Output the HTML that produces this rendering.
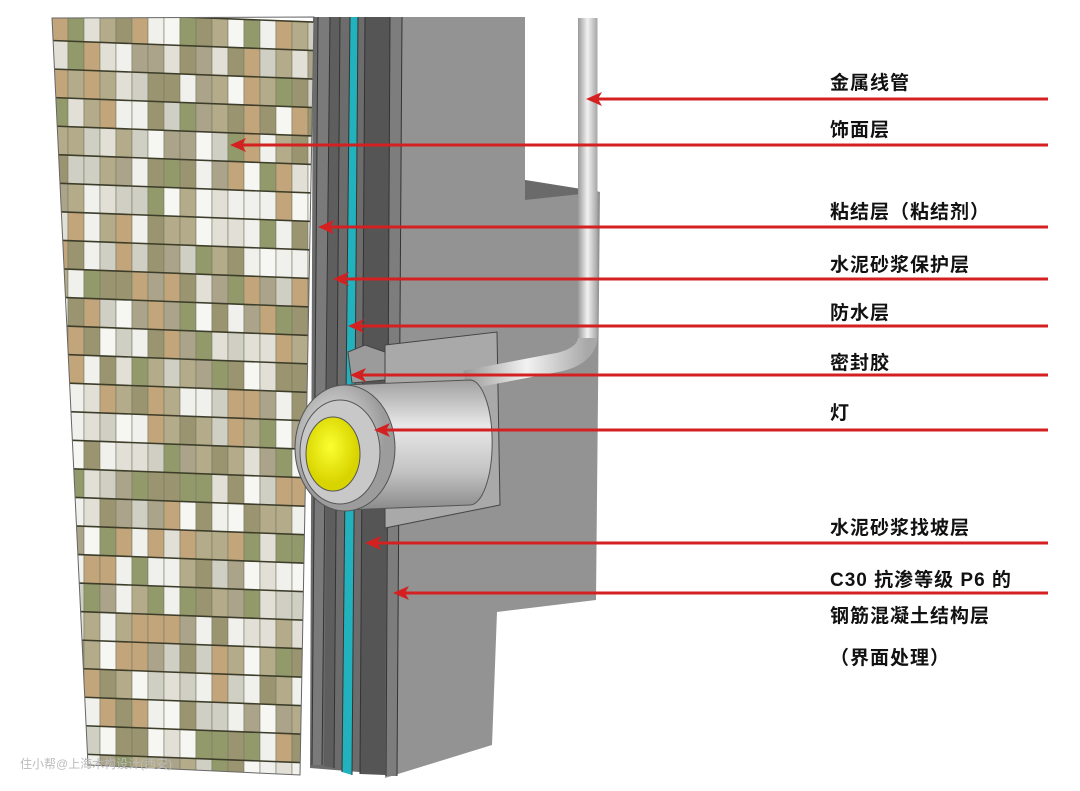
<!DOCTYPE html>
<html><head><meta charset="utf-8"><style>
body{margin:0;background:#fff;width:1080px;height:791px;overflow:hidden;position:relative;font-family:"Liberation Sans","Noto Sans CJK SC",sans-serif}
svg{position:absolute;left:0;top:0}
.t{position:absolute;left:830px;font-size:19px;color:#111;font-weight:bold;letter-spacing:1px;white-space:nowrap}
</style></head><body>
<svg width="1080" height="791" viewBox="0 0 1080 791">
<defs>
<clipPath id="wc"><polygon points="52,18 314,17 300,775 88,765"/></clipPath>
<linearGradient id="pipe" x1="0" x2="1"><stop offset="0" stop-color="#9a9a9a"/><stop offset=".5" stop-color="#f2f2f2"/><stop offset="1" stop-color="#a8a8a8"/></linearGradient>
<linearGradient id="cyl" x1="0" y1="0" x2="0" y2="1"><stop offset="0" stop-color="#a0a0a0"/><stop offset=".35" stop-color="#e8e8e8"/><stop offset=".7" stop-color="#c4c4c4"/><stop offset="1" stop-color="#8a8a8a"/></linearGradient>
<radialGradient id="ring" cx=".4" cy=".4"><stop offset="0" stop-color="#eee"/><stop offset="1" stop-color="#9c9c9c"/></radialGradient>
<radialGradient id="yel" cx=".45" cy=".4"><stop offset="0" stop-color="#fbff30"/><stop offset="1" stop-color="#d8d400"/></radialGradient>
</defs>
<polygon points="395,17 525,17 525,180 600,192 596,600 497,612 492,745 385,778" fill="#939393"/>
<polygon points="525,180 600,192 525,200" fill="#6a6a6a"/>
<polygon points="313,17 400,17 395,775 310,768" fill="#6c6c6c"/>
<polygon points="318,17 330,17 322,765 312,765" fill="#7a7a7a"/>
<polygon points="330,17 340,17 334,768 324,766" fill="#5e5e5e"/>
<polygon points="350,17 358,17 352,775 342,772" fill="#21b2bd"/>
<polygon points="365,17 390,17 385,775 360,774" fill="#555"/>
<polygon points="390,17 402,17 397,776 386,776" fill="#7d7d7d"/>
<g stroke="#333" stroke-width="1" fill="none">
<line x1="318" y1="17" x2="312" y2="765"/><line x1="330" y1="17" x2="322" y2="765"/><line x1="340" y1="17" x2="334" y2="768"/><line x1="350" y1="17" x2="342" y2="772"/><line x1="358" y1="17" x2="352" y2="775"/><line x1="365" y1="17" x2="360" y2="774"/><line x1="390" y1="17" x2="386" y2="776"/><line x1="402" y1="17" x2="397" y2="776"/>
</g>
<g clip-path="url(#wc)"><g id="tiles" transform="skewY(2.2)"></g></g>
<polygon points="52,18 314,17 300,775 88,765" fill="none" stroke="#666" stroke-width="1"/>
<polygon points="385,345 497,332 500,505 385,528" fill="#a9a9a9" stroke="#444"/>
<polygon points="348,352 365,345 385,352 385,380 352,383" fill="#9b9b9b" stroke="#444"/>
<path d="M588,18 L588,335 Q588,355 560,362 L465,380" stroke="url(#pipe)" stroke-width="19" fill="none"/>
<rect x="578" y="18" width="19" height="320" fill="url(#pipe)"/>
<path d="M345,385 L470,380 A22,62 0 0 1 470,505 L345,510 Z" fill="url(#cyl)" stroke="#555"/>
<ellipse cx="345" cy="448" rx="50" ry="63" fill="url(#ring)" stroke="#555"/>
<ellipse cx="340" cy="452" rx="40" ry="52" fill="#c8c8c8" stroke="#555"/>
<ellipse cx="333" cy="454" rx="27" ry="37" fill="url(#yel)" stroke="#555"/>
<g stroke="#d42020" stroke-width="3" fill="#d42020">
<line x1="1048" y1="99" x2="592" y2="99"/><polygon points="586,99 602,92 598,99 602,106" stroke="none"/>
<line x1="1048" y1="145" x2="236" y2="145"/><polygon points="230,145 246,138 242,145 246,152" stroke="none"/>
<line x1="1048" y1="227" x2="324" y2="227"/><polygon points="318,227 334,220 330,227 334,234" stroke="none"/>
<line x1="1048" y1="279" x2="339" y2="279"/><polygon points="333,279 349,272 345,279 349,286" stroke="none"/>
<line x1="1048" y1="326" x2="354" y2="326"/><polygon points="348,326 364,319 360,326 364,333" stroke="none"/>
<line x1="1048" y1="375" x2="356" y2="375"/><polygon points="350,375 366,368 362,375 366,382" stroke="none"/>
<line x1="1048" y1="430" x2="380" y2="430"/><polygon points="374,430 390,423 386,430 390,437" stroke="none"/>
<line x1="1048" y1="543" x2="371" y2="543"/><polygon points="365,543 381,536 377,543 381,550" stroke="none"/>
<line x1="1048" y1="593" x2="399" y2="593"/><polygon points="393,593 409,586 405,593 409,600" stroke="none"/>
</g>
<text x="20" y="768" font-size="12" fill="#bbb" font-family="Liberation Sans,Noto Sans CJK SC,sans-serif">住小帮@上海木构设计(西安)</text>
</svg>
<div class="t" style="top:68px">金属线管</div>
<div class="t" style="top:115px">饰面层</div>
<div class="t" style="top:197px">粘结层（粘结剂）</div>
<div class="t" style="top:250px">水泥砂浆保护层</div>
<div class="t" style="top:298px">防水层</div>
<div class="t" style="top:348px">密封胶</div>
<div class="t" style="top:398px">灯</div>
<div class="t" style="top:513px">水泥砂浆找坡层</div>
<div class="t" style="top:565px">C30 抗渗等级 P6 的</div>
<div class="t" style="top:601px">钢筋混凝土结构层</div>
<div class="t" style="top:643px">（界面处理）</div>
<script>
var g=document.getElementById('tiles'),cols=['#f0f0ec','#e2e0d6','#b3ab8a','#9a9570','#c2a57a','#929a6c','#cfcfc4','#f6f6f2','#aba48a'];
var s=7,h='';function r(){s=(s*9301+49297)%233280;return s/233280;}
for(var y=0;y<28;y++){for(var x=0;x<17;x++){var c=cols[Math.floor(r()*cols.length)];
h+='<rect x="'+(52+x*16)+'" y="'+(10+y*28.5)+'" width="16" height="28.5" fill="'+c+'" stroke="#7a7a60" stroke-width="0.6"/>';}
h+='<line x1="40" x2="330" y1="'+(10+y*28.5)+'" y2="'+(10+y*28.5)+'" stroke="#3d3d2a" stroke-width="1.6"/>';}
g.innerHTML=h;
</script>
</body></html>
